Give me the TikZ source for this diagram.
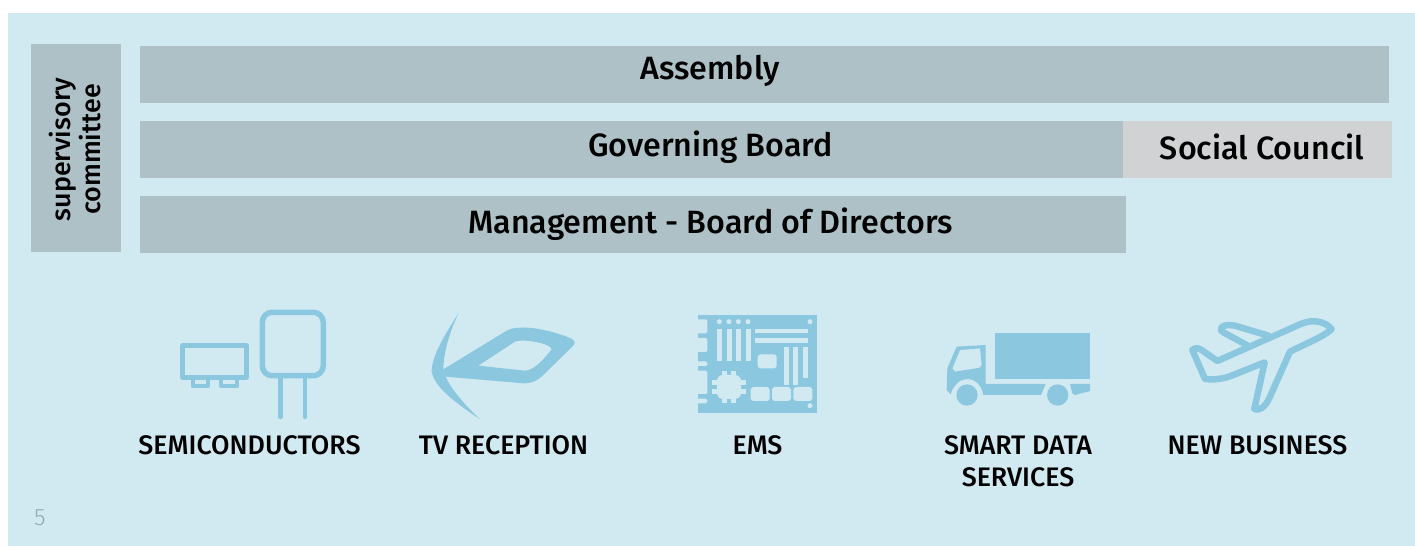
\documentclass[tikz,border=0pt]{standalone}
\usepackage{fontspec}
\setmainfont{Fira Sans Medium}
\newfontfamily\pagefont{Fira Sans Light}
\usetikzlibrary{positioning}
\definecolor{panelblue}{HTML}{D1E9F1}
\definecolor{boxgray}{HTML}{ADC1C6}
\definecolor{councilgray}{HTML}{D0D2D3}
\definecolor{iconblue}{HTML}{8BC8E0}
\definecolor{pagegray}{HTML}{94AAB3}
\tikzset{
    x=0.02cm, y=-0.02cm,
    panel box/.style={fill=boxgray, inner sep=0pt},
    council box/.style={fill=councilgray, inner sep=0pt},
    box label/.style={font=\fontsize{18.35}{21}\selectfont, text=black, inner sep=0pt, align=center},
    icon label/.style={font=\fontsize{15.25}{18.2}\selectfont, text=black, inner sep=0pt, align=center},
    icon line/.style={draw=iconblue, line join=round, line cap=round},
    icon fill/.style={fill=iconblue},
    icon hole/.style={fill=panelblue}
}
\begin{document}
\begin{tikzpicture}
    \useasboundingbox (0,0) rectangle (1415,546);
    \fill[panelblue] (8,13) rectangle (1415,546);

    % --- Boxes ---
    \node (committee) [panel box, minimum width=1.8cm, minimum height=4.16cm] at (76,148) {};
    \node (assembly) [panel box, minimum width=24.98cm, minimum height=1.14cm] at (764.5,74.5) {};
    \node (board) [panel box, minimum width=19.66cm, minimum height=1.14cm] at (631.5,149.5) {};
    \node (council) [council box, minimum width=5.38cm, minimum height=1.14cm] at (1257.5,149.5) {};
    \node (management) [panel box, minimum width=19.72cm, minimum height=1.14cm] at (633,224.5) {};

    % --- Box labels ---
    \node (committeeText) [box label, font=\fontsize{15.3}{17.6}\selectfont, rotate=90] at (75,149.5) {supervisory\\committee};
    \node (assemblyText) [box label] at (710,70.5) {Assembly};
    \node (boardText) [box label] at (710.5,147.5) {Governing Board};
    \node (councilText) [box label] at (1262,146.5) {Social Council};
    \node (managementText) [box label] at (710.5,224.5) {Management - Board of Directors};

    % --- Semiconductors icon ---
    \draw[icon line, line width=0.09cm] (182.7,345.7) rectangle (246.5,377.3);
    \draw[icon line, line width=0.08cm] (192.5,377.3) |- (208.3,386) -- (208.3,377.3);
    \draw[icon line, line width=0.08cm] (221.3,377.3) |- (237.3,386) -- (237.3,377.3);
    \draw[icon line, line width=0.11cm, rounded corners=0.2cm] (262.3,312.3) rectangle (323.3,375.7);
    \draw[icon line, line width=0.09cm] (280.7,376) -- (280.7,417);
    \draw[icon line, line width=0.09cm] (305,376) -- (305,417);

    % --- TV reception icon ---
    \begin{scope}[shift={(160,300)}, x=0.00667cm, y=-0.00667cm]
        \fill[icon fill, even odd rule] (897,38) .. controls (850,110) and (815,170) .. (815,215)
            .. controls (825,265) and (890,310) .. (960,358)
            .. controls (915,315) and (875,270) .. (857,230)
            -- (1090,250) .. controls (1125,250) and (1140,235) .. (1160,215)
            -- (1240,137) .. controls (1250,125) and (1240,118) .. (1225,112)
            .. controls (1170,90) and (1080,70) .. (1040,92)
            -- (850,208) .. controls (850,160) and (870,90) .. (897,38) -- cycle
            (955,197) -- (1065,125) .. controls (1085,115) and (1175,130) .. (1175,148)
            .. controls (1150,180) and (1120,212) .. (1095,212) -- cycle;
    \end{scope}

    % --- EMS icon ---
    \begin{scope}[shift={(680,300)}, x=0.00667cm, y=-0.00667cm]
        \fill[icon fill] (54,44) rectangle (411,338);
        \foreach \ya/\yb in {58/100, 114/156, 184/198, 212/282, 296/310}
            \fill[icon hole, rounded corners=0.03cm] (40,\ya) rectangle (82,\yb);
        \fill[panelblue] (30,40) rectangle (54,340);
        \foreach \px in {118, 147, 175, 204, 390}
            \fill[icon hole] (\px,65) circle (0.05cm);
        \fill[icon hole] (390,317) circle (0.05cm);
        \foreach \px in {111, 140, 168, 197}
            \fill[icon hole] (\px,87) rectangle ++(14.5,97);
        \fill[icon hole] (226,87) rectangle (383,100);
        \fill[icon hole] (226,114) rectangle (383,128);
        \fill[icon hole] (312,142) rectangle (326,254);
        \fill[icon hole] (340,142) rectangle (354,254);
        \fill[icon hole] (369,142) rectangle (383,233);
        \fill[icon hole, rounded corners=0.06cm] (233,163) rectangle (290,205);
        \foreach \px in {212, 276, 340}
            \fill[icon hole, rounded corners=0.06cm] (\px,261) rectangle ++(57,42);
        \fill[icon hole, rounded corners=0.12cm] (111,225) rectangle (183,297);
        \foreach \px in {126, 154} {
            \fill[icon hole] (\px,212) rectangle ++(14,98);
        }
        \foreach \py in {240, 268} {
            \fill[icon hole] (97,\py) rectangle ++(100,14);
        }
    \end{scope}

    % --- Smart data services icon ---
    \begin{scope}[shift={(930,305)}, x=0.00667cm, y=-0.00667cm]
        \fill[icon fill] (195,84) rectangle (480,222);
        \fill[icon fill, even odd rule] (167,120) -- (80,125) -- (52,190) -- (50,255) -- (62,268)
            .. controls (70,240) and (90,222) .. (111,222)
            .. controls (135,222) and (155,240) .. (160,270)
            -- (333,270) -- (347,237) -- (167,237) -- cycle
            (90,135) -- (150,130) -- (155,180) -- (150,188) -- (75,200) -- (67,190) -- cycle;
        \fill[icon fill] (111,270) circle (0.213cm);
        \fill[icon fill] (383,270) circle (0.213cm);
        \fill[icon fill] (420,237) -- (480,237) -- (480,258) -- (435,270) -- (427,265) -- cycle;
    \end{scope}

    % --- New business icon ---
    \begin{scope}[shift={(930,305)}, x=0.00667cm, y=-0.00667cm]
        \draw[icon line, line width=0.13cm] (787,135) .. controls (795,128) and (805,128) .. (815,135)
            -- (862,168) -- (1110,58) .. controls (1150,40) and (1185,50) .. (1205,72)
            .. controls (1190,90) and (1130,115) .. (1080,140)
            -- (1020,275) .. controls (1005,310) and (985,318) .. (973,312)
            -- (1004,172) -- (905,212) .. controls (880,222) and (850,225) .. (825,222)
            -- cycle;
        \draw[icon line, line width=0.13cm] (950,120) -- (880,82) .. controls (860,70) and (880,55) .. (915,62)
            -- (1015,92);
    \end{scope}

    % --- Icon labels ---
    \node (semiText) [icon label] at (249.5,445.5) {SEMICONDUCTORS};
    \node (tvText) [icon label] at (503.5,445.5) {TV RECEPTION};
    \node (emsText) [icon label] at (757.5,445.5) {EMS};
    \node (smartText) [icon label, anchor=north] at (1018,435) {SMART DATA\\SERVICES};
    \node (businessText) [icon label] at (1257.5,445.5) {NEW BUSINESS};
    \node (pageText) [icon label, font=\pagefont\fontsize{13.5}{14}\selectfont, text=pagegray] at (40,518) {5};
\end{tikzpicture}
\end{document}
